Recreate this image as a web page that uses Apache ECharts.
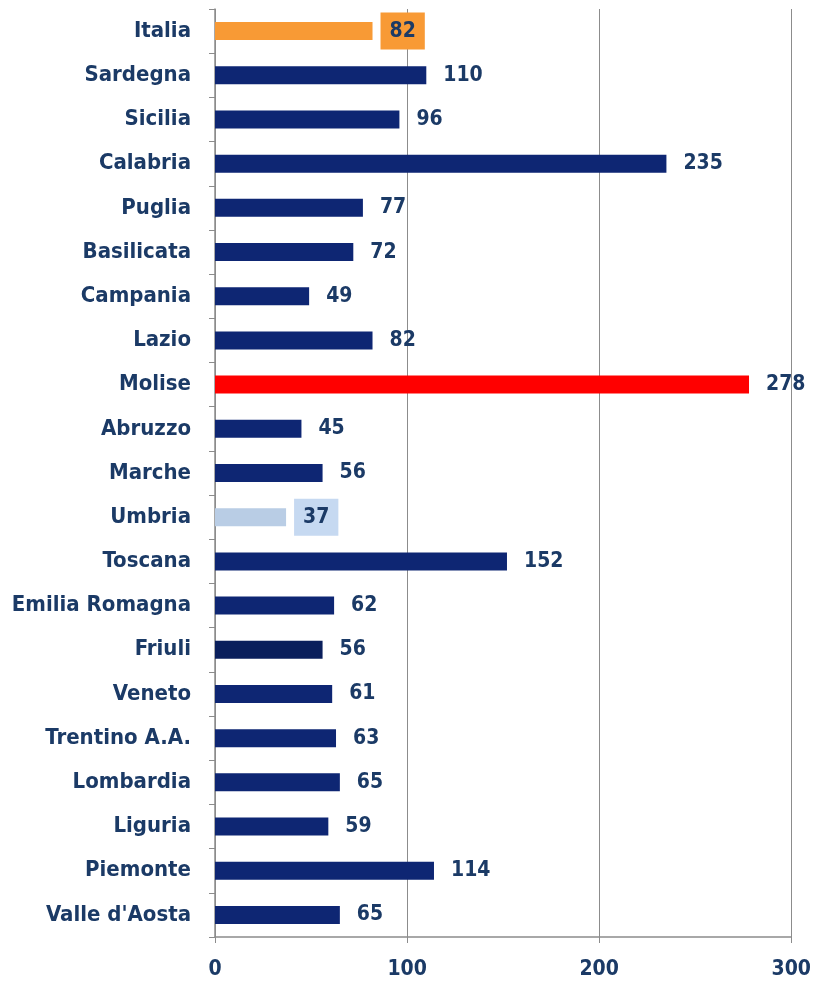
<!DOCTYPE html>
<html>
<head>
<meta charset="UTF-8">
<title>Regioni</title>
<script src="https://cdn.jsdelivr.net/npm/echarts@6/dist/echarts.min.js"></script>
<style>
	body { margin:0; background:#fff; }
</style>
</head>
<body>
	<div id="chart" style="width:814px;height:984px;"></div>
</body>
</html>
<script type="text/javascript">
var regioni = ['Italia', 'Sardegna', 'Sicilia', 'Calabria', 'Puglia', 'Basilicata', 'Campania', 'Lazio',
	'Molise', 'Abruzzo', 'Marche', 'Umbria', 'Toscana', 'Emilia Romagna', 'Friuli', 'Veneto',
	'Trentino A.A.', 'Lombardia', 'Liguria', 'Piemonte', "Valle d'Aosta"];
var valori = [82, 110, 96, 235, 77, 72, 49, 82, 278, 45, 56, 37, 152, 62, 56, 61, 63, 65, 59, 114, 65];
var xTicks = [0, 100, 200, 300];

var blu = '#0e2673';
var testo = '#1b3a66';
var font = '"Liberation Sans Narrow", "DejaVu Sans Condensed", "Open Sans", sans-serif';

// colori speciali
var speciali = {
	'Italia': { bar: '#f89a35', bg: '#f89a35' },
	'Molise': { bar: '#ff0000' },
	'Umbria': { bar: '#b9cde5', bg: '#c6d9f1' },
	'Friuli': { bar: '#0a1f5c' }
};

var dati = valori.map(function (v, i) {
	var s = speciali[regioni[i]] || {};
	var item = { value: v, itemStyle: { color: s.bar || blu } };
	if (s.bg) {
		item.label = { backgroundColor: s.bg, padding: [8, 9, 8, 9], offset: [-9, 0] };
	}
	return item;
});

var chart = echarts.init(document.getElementById('chart'));
var option = {
	animation: false,
	grid: { left: 215, right: 22, top: 9, bottom: 47 },
	xAxis: {
		type: 'value',
		min: 0, max: 300, interval: 100,
		axisLine: { show: true, lineStyle: { color: '#8c8c8c', width: 1.5 } },
		axisTick: { show: true, length: 6, lineStyle: { color: '#8c8c8c' } },
		splitLine: { show: true, lineStyle: { color: '#8c8c8c', width: 1 } },
		axisLabel: {
			margin: 22, color: testo, fontSize: 21, fontWeight: 'bold', fontFamily: font,
			formatter: function (v) { return xTicks.indexOf(v) >= 0 ? String(v) : ''; }
		}
	},
	yAxis: {
		type: 'category',
		data: regioni,
		inverse: true,
		axisLine: { show: true, lineStyle: { color: '#8c8c8c', width: 1.5 } },
		axisTick: { show: true, length: 6, lineStyle: { color: '#8c8c8c' } },
		axisLabel: { margin: 24, color: testo, fontSize: 22, fontWeight: 'bold', fontFamily: font }
	},
	series: [{
		type: 'bar',
		data: dati,
		barWidth: 18,
		label: {
			show: true,
			position: 'right',
			distance: 17,
			color: testo,
			fontSize: 21,
			fontWeight: 'bold',
			fontFamily: font
		}
	}]
};
chart.setOption(option);
</script>
